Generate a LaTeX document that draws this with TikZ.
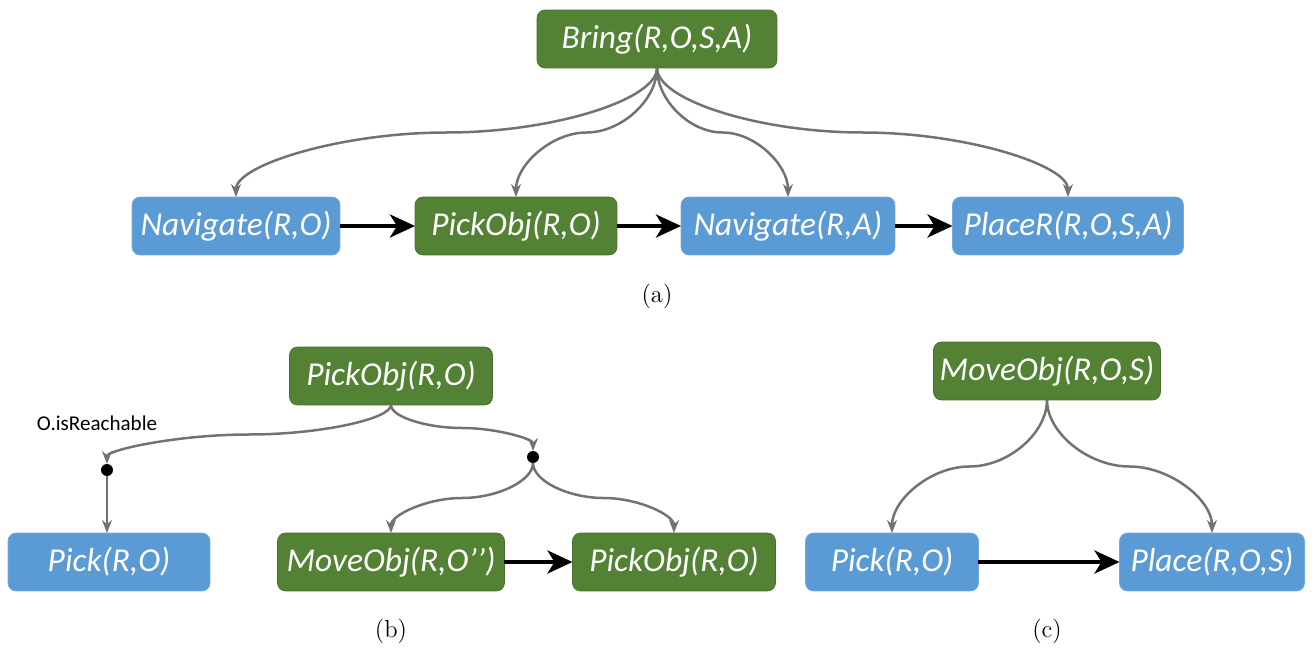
\documentclass[tikz,border=0pt]{standalone}
\usepackage{fontspec}
\newfontfamily\calib{Carlito}
\usetikzlibrary{arrows.meta,calc}
\definecolor{taskgreen}{HTML}{548235}
\definecolor{actblue}{HTML}{5B9BD5}
\definecolor{linkgray}{HTML}{767171}
\begin{document}
\begin{tikzpicture}[x=0.02cm,y=-0.02cm,
every node/.style={inner sep=0pt, outer sep=0pt},
box/.style={rounded corners=0.16cm, minimum height=1.16cm, text=white, font=\calib\itshape\fontsize{19}{22}\selectfont},
task/.style={box, fill=taskgreen, draw=taskgreen!85!black, thin},
act/.style={box, fill=actblue, draw=actblue!85!white, thin},
link/.style={draw=linkgray, line width=0.05cm, -{Stealth[length=0.26cm,width=0.2cm]}},
order/.style={draw=black, line width=0.08cm, -{Stealth[length=0.5cm,width=0.46cm,inset=0.14cm]}},
dot/.style={circle, fill=black, minimum size=0.24cm},
caption/.style={font=\fontsize{14}{16}\selectfont}]
\useasboundingbox (0,0) rectangle (1316,652);
% (a)
\node[task, minimum width=4.8cm] (bring) at (657,39) {Bring(R,O,S,A)};
\node[act, minimum width=4.16cm] (nava) at (236,226) {Navigate(R,O)};
\node[task, minimum width=4.04cm] (picka) at (516,226) {PickObj(R,O)};
\node[act, minimum width=4.28cm] (navb) at (788,226) {Navigate(R,A)};
\node[act, minimum width=4.62cm] (placer) at (1068,226) {PlaceR(R,O,S,A)};
\node[caption] (capa) at (657,296) {(a)};
\foreach \c/\q in {nava/-105,picka/-35,navb/33,placer/103}
\draw[link] (bring.south) .. controls +(0,32) and +({-(\q)},0) .. ($(bring.south)!0.5!(\c.north)$)
  .. controls +(\q,0) and +(0,-32) .. (\c.north);
\draw[order] (nava) -- (picka);
\draw[order] (picka) -- (navb);
\draw[order] (navb) -- (placer);
% (b)
\node[task, minimum width=4.06cm] (pickb) at (391,376) {PickObj(R,O)};
\node[font=\calib\fontsize{12}{14}\selectfont] (reach) at (97,423) {O.isReachable};
\node[dot] (d1) at (107,470) {};
\node[dot] (d2) at (533,457) {};
\node[act, minimum width=4.04cm] (pick) at (109,562) {Pick(R,O)};
\node[task, minimum width=4.54cm] (movea) at (391,562) {MoveObj(R,O’’)};
\node[task, minimum width=4.06cm] (pickc) at (674,562) {PickObj(R,O)};
\node[caption] (capb) at (391,631) {(b)};
\draw[link] (pickb.south) .. controls +(0,14) and +(71,0) .. ($(pickb.south)!0.5!(d1.north)$)
  .. controls +(-71,0) and +(0,-14) .. (d1.north);
\draw[link] (pickb.south) .. controls +(0,12) and +(-35,0) .. ($(pickb.south)!0.5!(d2.north)$)
  .. controls +(35,0) and +(0,-12) .. (d2.north);
\draw[link] (d1) -- (pick.north -| d1);
\draw[link] (d2.south) .. controls +(0,18) and +(35,0) .. ($(d2.south)!0.5!(movea.north)$)
  .. controls +(-35,0) and +(0,-18) .. (movea.north);
\draw[link] (d2.south) .. controls +(0,18) and +(-35,0) .. ($(d2.south)!0.5!(pickc.north)$)
  .. controls +(35,0) and +(0,-18) .. (pickc.north);
\draw[order] (movea) -- (pickc);
% (c)
\node[task, minimum width=4.54cm] (movec) at (1047,371) {MoveObj(R,O,S)};
\node[act, minimum width=3.46cm] (pickd) at (892,562) {Pick(R,O)};
\node[act, minimum width=3.7cm] (place) at (1212,562) {Place(R,O,S)};
\node[caption] (capc) at (1047,631) {(c)};
\draw[link] (movec.south) .. controls +(0,33) and +(39,0) .. ($(movec.south)!0.5!(pickd.north)$)
  .. controls +(-39,0) and +(0,-33) .. (pickd.north);
\draw[link] (movec.south) .. controls +(0,33) and +(-41,0) .. ($(movec.south)!0.5!(place.north)$)
  .. controls +(41,0) and +(0,-33) .. (place.north);
\draw[order] (pickd) -- (place);
\end{tikzpicture}
\end{document}
